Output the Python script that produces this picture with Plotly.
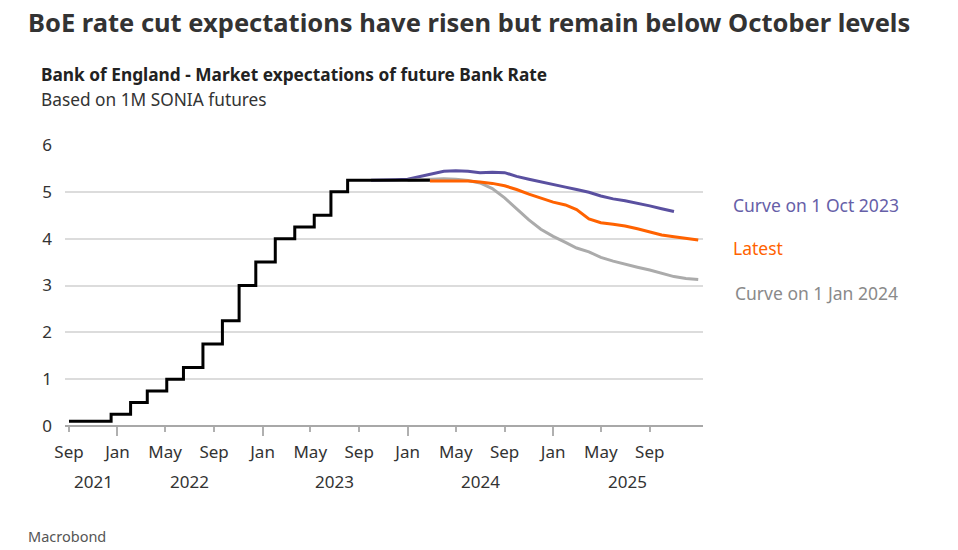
import plotly.graph_objects as go

# Bank Rate path (step changes)
bank_rate_dates = ['2021-09-01', '2021-12-16', '2022-02-03', '2022-03-17', '2022-05-05',
                   '2022-06-16', '2022-08-04', '2022-09-22', '2022-11-03', '2022-12-15',
                   '2023-02-02', '2023-03-23', '2023-05-11', '2023-06-22', '2023-08-03',
                   '2024-02-26']
bank_rate = [0.1, 0.25, 0.5, 0.75, 1.0, 1.25, 1.75, 2.25, 3.0, 3.5,
             4.0, 4.25, 4.5, 5.0, 5.25, 5.25]

# Curve on 1 Oct 2023
oct_dates = ['2023-10-01', '2023-11-01', '2023-12-01', '2024-01-01', '2024-02-01', '2024-03-01',
             '2024-04-01', '2024-05-01', '2024-06-01', '2024-07-01', '2024-08-01', '2024-09-01',
             '2024-10-01', '2024-11-01', '2024-12-01', '2025-01-01', '2025-02-01', '2025-03-01',
             '2025-04-01', '2025-05-01', '2025-06-01', '2025-07-01', '2025-08-01', '2025-09-01',
             '2025-10-01', '2025-11-01']
oct_curve = [5.25, 5.25, 5.26, 5.27, 5.33, 5.38, 5.44, 5.45, 5.44, 5.41, 5.42, 5.41,
             5.33, 5.27, 5.21, 5.15, 5.10, 5.05, 4.99, 4.91, 4.85, 4.81, 4.76, 4.70,
             4.64, 4.58]

# Curve on 1 Jan 2024
jan_dates = ['2024-01-01', '2024-02-01', '2024-03-01', '2024-04-01', '2024-05-01', '2024-06-01',
             '2024-07-01', '2024-08-01', '2024-09-01', '2024-10-01', '2024-11-01', '2024-12-01',
             '2025-01-01', '2025-02-01', '2025-03-01', '2025-04-01', '2025-05-01', '2025-06-01',
             '2025-07-01', '2025-08-01', '2025-09-01', '2025-10-01', '2025-11-01', '2025-12-01',
             '2026-01-01']
jan_curve = [5.25, 5.26, 5.27, 5.28, 5.27, 5.24, 5.19, 5.07, 4.87, 4.63, 4.40, 4.20,
             4.05, 3.92, 3.80, 3.72, 3.60, 3.52, 3.45, 3.39, 3.33, 3.26, 3.19, 3.15,
             3.13]

# Latest curve
latest_dates = ['2024-02-26', '2024-03-01', '2024-04-01', '2024-05-01', '2024-06-01',
                '2024-07-01', '2024-08-01', '2024-09-01', '2024-10-01', '2024-11-01',
                '2024-12-01', '2025-01-01', '2025-02-01', '2025-03-01', '2025-04-01',
                '2025-05-01', '2025-06-01', '2025-07-01', '2025-08-01', '2025-09-01',
                '2025-10-01', '2025-11-01', '2025-12-01', '2026-01-01']
latest_curve = [5.23, 5.23, 5.24, 5.24, 5.23, 5.21, 5.18, 5.13, 5.05, 4.95,
                4.86, 4.78, 4.72, 4.62, 4.42, 4.34, 4.31, 4.27, 4.21, 4.14,
                4.08, 4.04, 4.00, 3.97]

month_ticks = ['2021-09-01', '2022-01-01', '2022-05-01', '2022-09-01', '2023-01-01',
               '2023-05-01', '2023-09-01', '2024-01-01', '2024-05-01', '2024-09-01',
               '2025-01-01', '2025-05-01', '2025-09-01']
month_labels = ['Sep', 'Jan', 'May', 'Sep', 'Jan', 'May', 'Sep', 'Jan', 'May', 'Sep',
                'Jan', 'May', 'Sep']
jan_ticks = ['2022-01-01', '2023-01-01', '2024-01-01', '2025-01-01']
year_pos = ['2021-11-01', '2022-07-02', '2023-07-02', '2024-07-02', '2025-07-06']
year_labels = ['2021', '2022', '2023', '2024', '2025']

FONT = 'Noto Sans'
PURPLE = '#5a50a0'
ORANGE = '#ff6200'
GREY = '#ababab'

W, H = 958, 550
plot_l, plot_r, plot_t, plot_b = 65, 703, 145, 426
plot_w, plot_h = plot_r - plot_l, plot_b - plot_t


def px(x):
    return (x - plot_l) / plot_w


def py(y):
    return (plot_b - y) / plot_h


fig = go.Figure()

fig.add_trace(go.Scatter(x=oct_dates, y=oct_curve, mode='lines',
                         line=dict(color=PURPLE, width=3), name='Curve on 1 Oct 2023'))
fig.add_trace(go.Scatter(x=jan_dates, y=jan_curve, mode='lines',
                         line=dict(color=GREY, width=3), name='Curve on 1 Jan 2024'))
fig.add_trace(go.Scatter(x=latest_dates, y=latest_curve, mode='lines',
                         line=dict(color=ORANGE, width=3), name='Latest'))
fig.add_trace(go.Scatter(x=bank_rate_dates, y=bank_rate, mode='lines',
                         line=dict(color='black', width=3, shape='hv'), name='Bank Rate'))

# invisible trace to carry the longer January ticks
fig.add_trace(go.Scatter(x=jan_ticks, y=[None] * len(jan_ticks), xaxis='x2',
                         showlegend=False, hoverinfo='skip'))

x_range = ['2021-08-22', '2026-01-13']

fig.update_layout(
    width=W, height=H,
    margin=dict(l=plot_l, r=W - plot_r, t=plot_t, b=H - plot_b, autoexpand=False),
    plot_bgcolor='white', paper_bgcolor='white',
    showlegend=False,
    font=dict(family=FONT, size=17, color='#333333'),
    xaxis=dict(
        range=x_range, tickmode='array', tickvals=month_ticks, ticktext=month_labels,
        ticks='outside', ticklen=5, tickcolor='#b0b0b0', tickwidth=1.5,
        showgrid=False, zeroline=False, showline=False, ticklabelstandoff=6,
        tickfont=dict(size=17, color='#333333'),
    ),
    xaxis2=dict(
        range=x_range, overlaying='x', anchor='y', side='bottom',
        tickmode='array', tickvals=jan_ticks, showticklabels=False,
        ticks='outside', ticklen=9, tickcolor='#b0b0b0', tickwidth=1.5,
        showgrid=False, zeroline=False, showline=False,
    ),
    yaxis=dict(
        range=[0, 6.0], tickvals=[0, 1, 2, 3, 4, 5, 6],
        showgrid=True, gridcolor='#dcdcdc', gridwidth=1.5,
        zeroline=True, zerolinecolor='#a8a8a8', zerolinewidth=2,
        showline=False, ticks='', ticklabelstandoff=12,
        tickfont=dict(size=17, color='#333333'),
    ),
)

for pos, label in zip(year_pos, year_labels):
    fig.add_annotation(x=pos, y=py(481), xref='x', yref='paper', text=label,
                       showarrow=False, font=dict(size=17, color='#333333'),
                       xanchor='center', yanchor='middle')

# line labels
fig.add_annotation(x=px(731), y=py(205), xref='paper', yref='paper', text='Curve on 1 Oct 2023',
                   showarrow=False, xanchor='left', yanchor='middle',
                   font=dict(size=17.5, color='#6660a8'))
fig.add_annotation(x=px(731), y=py(248), xref='paper', yref='paper', text='Latest',
                   showarrow=False, xanchor='left', yanchor='middle',
                   font=dict(size=17.5, color=ORANGE))
fig.add_annotation(x=px(733), y=py(293), xref='paper', yref='paper', text='Curve on 1 Jan 2024',
                   showarrow=False, xanchor='left', yanchor='middle',
                   font=dict(size=17.5, color='#8a8a8a'))

# titles and source
fig.add_annotation(x=px(26), y=py(22), xref='paper', yref='paper',
                   text='<b>BoE rate cut expectations have risen but remain below October levels</b>',
                   showarrow=False, xanchor='left', yanchor='middle',
                   font=dict(size=25.5, color='#333333'))
fig.add_annotation(x=px(39), y=py(75), xref='paper', yref='paper',
                   text='<b>Bank of England - Market expectations of future Bank Rate</b>',
                   showarrow=False, xanchor='left', yanchor='middle',
                   font=dict(size=17.3, color='#222222'))
fig.add_annotation(x=px(39), y=py(100), xref='paper', yref='paper',
                   text='Based on 1M SONIA futures',
                   showarrow=False, xanchor='left', yanchor='middle',
                   font=dict(size=17.3, color='#333333'))
fig.add_annotation(x=px(26), y=py(536), xref='paper', yref='paper', text='Macrobond',
                   showarrow=False, xanchor='left', yanchor='middle',
                   font=dict(size=14.5, color='#555555'))

# drop the default page margin so the figure fills the 958x550 window
fig.write_html('out.html', config={'displayModeBar': False},
               post_script="document.body.style.margin = '0';")
